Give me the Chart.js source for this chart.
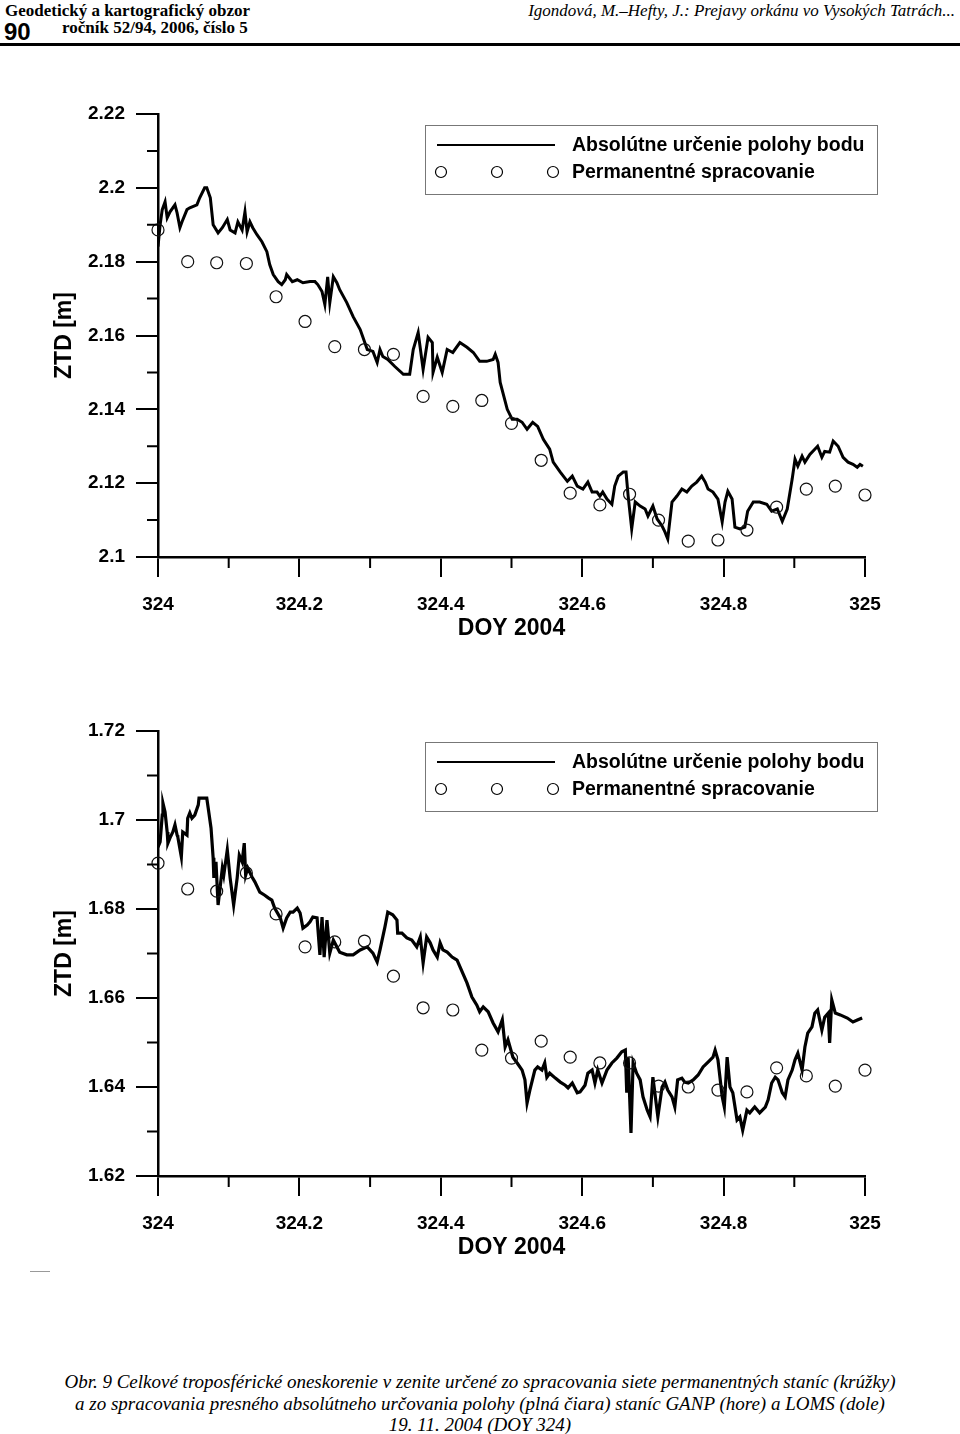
<!DOCTYPE html>
<html>
<head>
<meta charset="utf-8">
<script src="https://cdn.jsdelivr.net/npm/chart.js@4.4.1/dist/chart.umd.min.js"></script>
<style>
  body { margin: 0; background: #fff; width: 960px; height: 1434px; position: relative; overflow: hidden; color: #000; }
  .t { position: absolute; white-space: nowrap; line-height: 1; }
  canvas { position: absolute; left: 0; }
</style>
</head>
<body>
<div class="t" style="left:5px;top:1px;font:bold 17px 'Liberation Serif',serif">Geodetický a kartografický obzor</div>
<div class="t" style="left:4px;top:18px;font:bold 24px 'Liberation Sans',Arial,sans-serif">90</div>
<div class="t" style="left:62px;top:18px;font:bold 17px 'Liberation Serif',serif">ročník 52/94, 2006, číslo 5</div>
<div class="t" style="right:5px;top:1px;font:italic 17px 'Liberation Serif',serif">Igondová, M.–Hefty, J.: Prejavy orkánu vo Vysokých Tatrách...</div>
<div style="position:absolute;left:0;top:43px;width:960px;height:3px;background:#000"></div>

<canvas id="ganp" width="960" height="600" style="top:60px"></canvas>
<canvas id="loms" width="960" height="602" style="top:677px"></canvas>

<div style="position:absolute;left:30px;top:1271px;width:20px;height:1px;background:#999"></div>

<div class="t" style="left:0;width:960px;top:1371px;text-align:center;font:italic 19px 'Liberation Serif',serif">Obr. 9 Celkové troposférické oneskorenie v zenite určené zo spracovania siete permanentných staníc (krúžky)</div>
<div class="t" style="left:0;width:960px;top:1393px;text-align:center;font:italic 19px 'Liberation Serif',serif">a zo spracovania presného absolútneho určovania polohy (plná čiara) staníc GANP (hore) a LOMS (dole)</div>
<div class="t" style="left:0;width:960px;top:1414px;text-align:center;font:italic 19px 'Liberation Serif',serif">19. 11. 2004 (DOY 324)</div>

<script>
// hourly epochs of the network solution (circles)
const hourDoy = [324, 324.042, 324.083, 324.125, 324.167, 324.208, 324.25, 324.292, 324.333,
  324.375, 324.417, 324.458, 324.5, 324.542, 324.583, 324.625, 324.667, 324.708, 324.75,
  324.792, 324.833, 324.875, 324.917, 324.958, 325];

// GANP (top)
const ganpPerm = [2.1886, 2.1800, 2.1797, 2.1795, 2.1705, 2.1638, 2.1570, 2.1562, 2.1549,
  2.1435, 2.1408, 2.1424, 2.1362, 2.1262, 2.1173, 2.1141, 2.1170, 2.1100, 2.1043,
  2.1046, 2.1073, 2.1135, 2.1184, 2.1192, 2.1168];

const ganpDoy = [324.000, 324.003, 324.006, 324.010, 324.013, 324.017, 324.024, 324.027, 324.031, 324.034,
  324.041, 324.045, 324.055, 324.059, 324.066, 324.069, 324.074, 324.078, 324.085, 324.091,
  324.098, 324.102, 324.109, 324.113, 324.119, 324.123, 324.126, 324.130, 324.134, 324.140,
  324.147, 324.154, 324.158, 324.163, 324.170, 324.175, 324.180, 324.182, 324.190, 324.197,
  324.205, 324.215, 324.222, 324.226, 324.232, 324.236, 324.240, 324.243, 324.248, 324.253,
  324.257, 324.267, 324.276, 324.286, 324.296, 324.304, 324.310, 324.314, 324.318, 324.325,
  324.335, 324.347, 324.356, 324.361, 324.368, 324.375, 324.382, 324.388, 324.389, 324.395,
  324.402, 324.409, 324.417, 324.427, 324.437, 324.446, 324.455, 324.465, 324.474, 324.477,
  324.481, 324.484, 324.494, 324.501, 324.508, 324.515, 324.522, 324.530, 324.537, 324.545,
  324.554, 324.559, 324.569, 324.579, 324.586, 324.593, 324.601, 324.608, 324.614, 324.621,
  324.625, 324.629, 324.635, 324.642, 324.646, 324.651, 324.658, 324.662, 324.665, 324.670,
  324.675, 324.682, 324.689, 324.693, 324.700, 324.706, 324.713, 324.717, 324.721, 324.727,
  324.734, 324.741, 324.748, 324.755, 324.762, 324.769, 324.774, 324.778, 324.785, 324.792,
  324.798, 324.802, 324.806, 324.812, 324.816, 324.823, 324.830, 324.834, 324.842, 324.851,
  324.861, 324.868, 324.876, 324.883, 324.890, 324.897, 324.901, 324.905, 324.911, 324.915,
  324.922, 324.929, 324.933, 324.939, 324.943, 324.950, 324.955, 324.962, 324.969, 324.976,
  324.983, 324.989, 324.993, 324.997];
const ganpZtd = [2.1841, 2.1900, 2.1941, 2.1962, 2.1919, 2.1935, 2.1954, 2.1932, 2.1892, 2.1908,
  2.1941, 2.1946, 2.1954, 2.1973, 2.2000, 2.2000, 2.1973, 2.1900, 2.1878, 2.1892,
  2.1914, 2.1886, 2.1878, 2.1908, 2.1886, 2.1935, 2.1881, 2.1908, 2.1892, 2.1873,
  2.1854, 2.1827, 2.1792, 2.1765, 2.1746, 2.1738, 2.1751, 2.1765, 2.1746, 2.1751,
  2.1743, 2.1746, 2.1746, 2.1738, 2.1719, 2.1684, 2.1759, 2.1689, 2.1759, 2.1743,
  2.1724, 2.1689, 2.1651, 2.1616, 2.1562, 2.1557, 2.1527, 2.1562, 2.1543, 2.1535,
  2.1516, 2.1495, 2.1495, 2.1562, 2.1608, 2.1508, 2.1595, 2.1581, 2.1500, 2.1541,
  2.1500, 2.1562, 2.1554, 2.1581, 2.1568, 2.1554, 2.1530, 2.1530, 2.1535, 2.1549,
  2.1527, 2.1473, 2.1400, 2.1373, 2.1373, 2.1365, 2.1346, 2.1365, 2.1354, 2.1319,
  2.1292, 2.1257, 2.1230, 2.1205, 2.1219, 2.1192, 2.1184, 2.1203, 2.1176, 2.1176,
  2.1165, 2.1176, 2.1157, 2.1143, 2.1192, 2.1219, 2.1230, 2.1230, 2.1165, 2.1076,
  2.1149, 2.1138, 2.1130, 2.1111, 2.1138, 2.1103, 2.1084, 2.1068, 2.1049, 2.1149,
  2.1165, 2.1184, 2.1176, 2.1192, 2.1203, 2.1219, 2.1203, 2.1184, 2.1176, 2.1157,
  2.1095, 2.1149, 2.1178, 2.1157, 2.1081, 2.1076, 2.1081, 2.1124, 2.1149, 2.1149,
  2.1143, 2.1124, 2.1130, 2.1097, 2.1130, 2.1211, 2.1265, 2.1246, 2.1273, 2.1257,
  2.1278, 2.1292, 2.1300, 2.1270, 2.1286, 2.1284, 2.1314, 2.1300, 2.1270, 2.1257,
  2.1251, 2.1243, 2.1251, 2.1246];

// LOMS (bottom)
const lomsPerm = [1.6903, 1.6845, 1.6840, 1.6881, 1.6789, 1.6715, 1.6726, 1.6728, 1.6649,
  1.6578, 1.6573, 1.6483, 1.6465, 1.6503, 1.6467, 1.6454, 1.6454, 1.6402, 1.6400,
  1.6393, 1.6389, 1.6443, 1.6425, 1.6402, 1.6438];

const lomsDoy = [324.000, 324.003, 324.006, 324.007, 324.010, 324.013, 324.014, 324.017, 324.021, 324.024,
  324.027, 324.028, 324.033, 324.035, 324.041, 324.042, 324.045, 324.048, 324.052, 324.057,
  324.058, 324.069, 324.071, 324.075, 324.078, 324.079, 324.082, 324.085, 324.091, 324.093,
  324.098, 324.102, 324.107, 324.112, 324.115, 324.119, 324.122, 324.124, 324.127, 324.133,
  324.137, 324.144, 324.151, 324.156, 324.161, 324.165, 324.173, 324.177, 324.182, 324.187,
  324.191, 324.197, 324.201, 324.205, 324.211, 324.215, 324.219, 324.225, 324.229, 324.232,
  324.235, 324.239, 324.243, 324.248, 324.257, 324.267, 324.276, 324.286, 324.296, 324.304,
  324.310, 324.314, 324.321, 324.325, 324.332, 324.338, 324.339, 324.345, 324.352, 324.359,
  324.366, 324.371, 324.375, 324.380, 324.385, 324.389, 324.395, 324.399, 324.403, 324.409,
  324.416, 324.423, 324.437, 324.444, 324.451, 324.455, 324.460, 324.467, 324.474, 324.481,
  324.487, 324.491, 324.495, 324.502, 324.508, 324.515, 324.519, 324.522, 324.526, 324.533,
  324.537, 324.543, 324.547, 324.550, 324.554, 324.562, 324.569, 324.576, 324.580, 324.586,
  324.593, 324.597, 324.604, 324.608, 324.614, 324.618, 324.622, 324.628, 324.635, 324.642,
  324.649, 324.656, 324.661, 324.663, 324.665, 324.669, 324.672, 324.677, 324.682, 324.686,
  324.692, 324.696, 324.700, 324.704, 324.707, 324.713, 324.717, 324.721, 324.727, 324.731,
  324.735, 324.741, 324.745, 324.750, 324.757, 324.764, 324.771, 324.778, 324.785, 324.788,
  324.792, 324.798, 324.801, 324.805, 324.809, 324.813, 324.819, 324.823, 324.827, 324.833,
  324.837, 324.844, 324.851, 324.859, 324.863, 324.868, 324.873, 324.877, 324.883, 324.887,
  324.891, 324.897, 324.901, 324.905, 324.911, 324.915, 324.919, 324.925, 324.929, 324.933,
  324.939, 324.943, 324.948, 324.950, 324.953, 324.958, 324.965, 324.975, 324.983, 324.990,
  324.996];
const lomsZtd = [1.6939, 1.6951, 1.7011, 1.7038, 1.7018, 1.6973, 1.6948, 1.6960, 1.6973, 1.6989,
  1.6966, 1.6962, 1.6917, 1.6973, 1.6966, 1.7004, 1.7016, 1.7004, 1.7011, 1.7034,
  1.7049, 1.7049, 1.7027, 1.6982, 1.6915, 1.6870, 1.6906, 1.6809, 1.6892, 1.6876,
  1.6933, 1.6870, 1.6809, 1.6870, 1.6921, 1.6906, 1.6948, 1.6876, 1.6892, 1.6872,
  1.6861, 1.6838, 1.6831, 1.6825, 1.6820, 1.6802, 1.6780, 1.6757, 1.6780, 1.6793,
  1.6793, 1.6802, 1.6791, 1.6757, 1.6764, 1.6771, 1.6782, 1.6780, 1.6697, 1.6782,
  1.6692, 1.6775, 1.6701, 1.6730, 1.6703, 1.6697, 1.6697, 1.6708, 1.6715, 1.6701,
  1.6681, 1.6708, 1.6760, 1.6793, 1.6787, 1.6775, 1.6746, 1.6746, 1.6735, 1.6730,
  1.6715, 1.6737, 1.6679, 1.6737, 1.6724, 1.6708, 1.6692, 1.6724, 1.6708, 1.6703,
  1.6692, 1.6685, 1.6634, 1.6602, 1.6584, 1.6569, 1.6580, 1.6569, 1.6544, 1.6524,
  1.6551, 1.6490, 1.6506, 1.6467, 1.6454, 1.6438, 1.6416, 1.6364, 1.6393, 1.6438,
  1.6445, 1.6438, 1.6454, 1.6422, 1.6431, 1.6420, 1.6411, 1.6404, 1.6398, 1.6409,
  1.6387, 1.6389, 1.6404, 1.6431, 1.6438, 1.6409, 1.6438, 1.6409, 1.6438, 1.6454,
  1.6465, 1.6479, 1.6483, 1.6387, 1.6467, 1.6297, 1.6454, 1.6431, 1.6416, 1.6378,
  1.6348, 1.6333, 1.6422, 1.6371, 1.6333, 1.6400, 1.6411, 1.6393, 1.6378, 1.6355,
  1.6416, 1.6420, 1.6411, 1.6409, 1.6416, 1.6427, 1.6445, 1.6456, 1.6467, 1.6483,
  1.6461, 1.6378, 1.6355, 1.6467, 1.6400, 1.6387, 1.6326, 1.6333, 1.6303, 1.6348,
  1.6342, 1.6355, 1.6342, 1.6355, 1.6371, 1.6409, 1.6422, 1.6416, 1.6387, 1.6378,
  1.6416, 1.6438, 1.6461, 1.6476, 1.6438, 1.6490, 1.6521, 1.6535, 1.6566, 1.6573,
  1.6528, 1.6557, 1.6566, 1.6499, 1.6596, 1.6566, 1.6562, 1.6555, 1.6546, 1.6551,
  1.6555];

const xMinor = [324.1, 324.3, 324.5, 324.7, 324.9];
const ganpMinor = [2.11, 2.13, 2.15, 2.17, 2.19, 2.21];
const lomsMinor = [1.63, 1.65, 1.67, 1.69, 1.71];

const lineLabel = 'Absolútne určenie polohy bodu';
const circleLabel = 'Permanentné spracovanie';

const sans = "'Liberation Sans', Arial, sans-serif";

// short ticks between the labelled ones
const minorTicks = {
  id: 'minorTicks',
  afterDraw(chart, args, opts) {
    const { ctx, chartArea, scales } = chart;
    ctx.save();
    ctx.strokeStyle = '#000';
    ctx.lineWidth = 2;
    ctx.beginPath();
    opts.x.forEach(v => {
      const px = scales.x.getPixelForValue(v);
      ctx.moveTo(px, chartArea.bottom);
      ctx.lineTo(px, chartArea.bottom + 11);
    });
    opts.y.forEach(v => {
      const py = scales.y.getPixelForValue(v);
      ctx.moveTo(chartArea.left, py);
      ctx.lineTo(chartArea.left - 11, py);
    });
    ctx.stroke();
    ctx.restore();
  }
};

// boxed legend inside the plot, three circles as the symbol
const boxLegend = {
  id: 'boxLegend',
  afterDraw(chart) {
    const { ctx, chartArea } = chart;
    const ds = chart.data.datasets;
    const top = chartArea.top + 11;
    ctx.save();
    ctx.fillStyle = '#fff';
    ctx.fillRect(425, top, 452, 69);
    ctx.strokeStyle = '#777';
    ctx.lineWidth = 1;
    ctx.strokeRect(425.5, top + 0.5, 452, 69);

    ctx.strokeStyle = '#000';
    ctx.lineWidth = 2;
    ctx.beginPath();
    ctx.moveTo(437, top + 20);
    ctx.lineTo(555, top + 20);
    ctx.stroke();

    ctx.lineWidth = 1.2;
    [441, 497, 553].forEach(cx => {
      ctx.beginPath();
      ctx.arc(cx, top + 47, 5.5, 0, Math.PI * 2);
      ctx.stroke();
    });

    ctx.fillStyle = '#000';
    ctx.font = 'bold 19.5px ' + sans;
    ctx.textBaseline = 'middle';
    ctx.textAlign = 'left';
    ctx.fillText(ds[0].label, 572, top + 21);
    ctx.fillText(ds[1].label, 572, top + 48);
    ctx.restore();
  }
};

function fmt(v) {
  return String(parseFloat(Number(v).toFixed(2)));
}

function makeChart(id, lineDoy, lineZtd, perm, yMin, yMax, yMinor, lineW) {
  const tickFont = { family: sans, size: 19, weight: 'bold' };
  const titleFont = { family: sans, size: 23, weight: 'bold' };
  return new Chart(document.getElementById(id), {
    type: 'scatter',
    data: {
      datasets: [{
        label: lineLabel,
        data: lineDoy.map((d, i) => ({ x: d, y: lineZtd[i] })),
        showLine: true,
        borderColor: '#000',
        borderWidth: lineW,
        pointRadius: 0,
        tension: 0,
        order: 2
      }, {
        label: circleLabel,
        data: hourDoy.map((d, i) => ({ x: d, y: perm[i] })),
        showLine: false,
        pointStyle: 'circle',
        pointRadius: 6,
        borderWidth: 1.2,
        borderColor: '#111',
        backgroundColor: 'rgba(0,0,0,0)',
        clip: false,
        order: 1
      }]
    },
    options: {
      responsive: false,
      animation: false,
      devicePixelRatio: 1,
      layout: { padding: { top: 54, right: 95, left: 0, bottom: 0 } },
      plugins: {
        legend: { display: false },
        tooltip: { enabled: false },
        minorTicks: { x: xMinor, y: yMinor }
      },
      scales: {
        x: {
          type: 'linear',
          position: 'bottom',
          min: 324,
          max: 325,
          afterFit: s => { s.height = 103; },
          grid: { drawOnChartArea: false, color: '#000', lineWidth: 2, tickLength: 20 },
          border: { color: '#000', width: 2.5 },
          ticks: { stepSize: 0.2, padding: 16, color: '#000', font: tickFont, maxRotation: 0,
            callback: v => fmt(v) },
          title: { display: true, text: 'DOY 2004', color: '#000', font: titleFont,
            padding: { top: 0, bottom: 18 } }
        },
        y: {
          type: 'linear',
          position: 'left',
          min: yMin,
          max: yMax,
          afterFit: s => { s.width = 158; },
          grid: { drawOnChartArea: false, color: '#000', lineWidth: 2, tickLength: 22 },
          border: { color: '#000', width: 2.5 },
          ticks: { stepSize: 0.02, padding: 11, color: '#000', font: tickFont,
            callback: v => fmt(v) },
          title: { display: true, text: 'ZTD [m]', color: '#000', font: titleFont,
            padding: { top: 51, bottom: 0 } }
        }
      }
    },
    plugins: [minorTicks, boxLegend]
  });
}

makeChart('ganp', ganpDoy, ganpZtd, ganpPerm, 2.1, 2.22, ganpMinor, 3);
makeChart('loms', lomsDoy, lomsZtd, lomsPerm, 1.62, 1.72, lomsMinor, 3.2);
</script>
</body>
</html>
